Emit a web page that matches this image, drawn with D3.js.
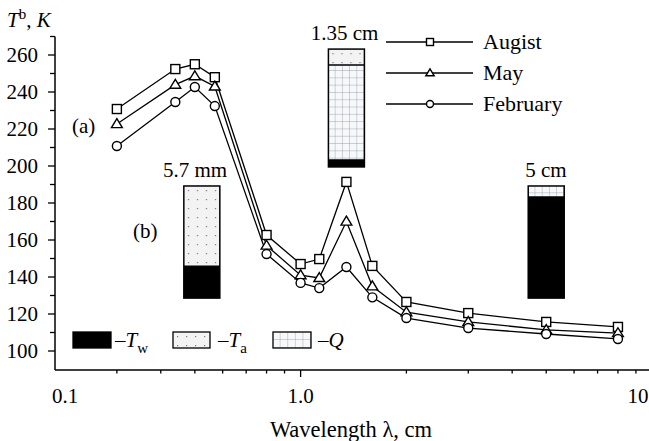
<!DOCTYPE html>
<html><head><meta charset="utf-8">
<script src="https://cdn.jsdelivr.net/npm/d3@7"></script>
<style>
body{margin:0;background:#fff}
svg{display:block}
text{font-family:"Liberation Serif","Times New Roman",serif;font-size:21px;fill:#000}
</style>
</head><body>
<svg id="c" width="649" height="441"></svg>
<script>
// ---- data ----
const wavelengths = [0.30, 0.44, 0.50, 0.57, 0.80, 1.0, 1.13, 1.35, 1.6, 2.0, 3.0, 5.0, 8.0];
const august   = [230.8, 252.4, 255.0, 248.0, 162.7, 147.0, 149.7, 191.4, 146.0, 126.5, 120.5, 115.7, 113.0];
const may      = [222.7, 244.0, 248.6, 243.0, 157.0, 141.0, 139.5, 170.0, 135.0, 121.0, 115.7, 111.4, 109.7];
const february = [210.8, 234.6, 242.7, 232.4, 152.4, 136.8, 134.0, 145.4, 129.0, 117.8, 112.4, 109.2, 106.5];
const seriesNames = ["Augist", "May", "February"];
const seriesMarkers = ["square", "triangle", "circle"];
const yTicks = [100, 120, 140, 160, 180, 200, 220, 240, 260];
const xTickLabels = ["0.1", "1.0", "10"];
const xTickValues = [0.2, 1, 10];
const barLabels = ["5.7 mm", "1.35 cm", "5 cm"];
const barWavelengths = [0.57, 1.35, 5.0];
const barTw = [0.286, 0.06, 0.902];
const barQ  = [0.0, 0.805, 0.098];
const barTa = [0.714, 0.135, 0.0];

// ---- layout ----
const svg = d3.select("#c");
const x = d3.scaleLog().domain([0.2, 10]).range([55, 652]);
const y = d3.scaleLinear().domain([90, 270]).range([369.5, 36.5]);
const xAxisY = 370, yAxisX = 55;

// patterns
const defs = svg.append("defs");
function dotPattern(id, ox, oy) {
  const p = defs.append("pattern").attr("id", id).attr("patternUnits", "userSpaceOnUse")
    .attr("x", ox).attr("y", oy).attr("width", 9).attr("height", 9);
  p.append("rect").attr("width", 9).attr("height", 9).attr("fill", "#f3f3f3");
  p.append("rect").attr("x", 4).attr("y", 4).attr("width", 1.2).attr("height", 1.2).attr("fill", "#777");
}
function gridPattern(id, ox, oy, w, h) {
  const p = defs.append("pattern").attr("id", id).attr("patternUnits", "userSpaceOnUse")
    .attr("x", ox).attr("y", oy).attr("width", w).attr("height", h);
  p.append("rect").attr("width", w).attr("height", h).attr("fill", "#f7f8fa");
  p.append("path").attr("d", `M${w},0V${h}M0,${h}H${w}`).attr("stroke", "#8a94a0").attr("stroke-width", 0.8).attr("fill", "none");
}

// ---- axes ----
const ax = svg.append("g").attr("stroke", "#000").attr("fill", "none");
ax.append("line").attr("x1", yAxisX).attr("x2", yAxisX).attr("y1", y(270)).attr("y2", xAxisY).attr("stroke-width", 1.5);
ax.append("line").attr("x1", yAxisX).attr("x2", 649).attr("y1", xAxisY).attr("y2", xAxisY).attr("stroke-width", 1.5);
d3.range(90, 271, 10).forEach(v => {
  if (v === 90) return;
  const major = v % 20 === 0;
  ax.append("line").attr("x1", yAxisX - (major ? 7 : 5)).attr("x2", yAxisX)
    .attr("y1", y(v)).attr("y2", y(v)).attr("stroke-width", 1.3);
});
const xMinor = [0.3,0.4,0.5,0.6,0.7,0.8,0.9,2,3,4,5,6,7,8,9];
xMinor.forEach(v => {
  ax.append("line").attr("x1", x(v)).attr("x2", x(v)).attr("y1", xAxisY).attr("y2", xAxisY + 3.5).attr("stroke-width", 1.3);
});
ax.append("line").attr("x1", x(1)).attr("x2", x(1)).attr("y1", xAxisY).attr("y2", xAxisY + 7).attr("stroke-width", 1.3);

yTicks.forEach(v => {
  svg.append("text").attr("x", 38).attr("y", y(v)).attr("dy", "0.35em").attr("text-anchor", "end").text(v);
});
const xLabelX = [65, 300, 638];
xTickLabels.forEach((t, i) => {
  svg.append("text").attr("x", i === 1 ? x(xTickValues[i]) : xLabelX[i]).attr("y", 403).attr("text-anchor", "middle").text(t);
});
svg.append("text").attr("x", 351).attr("y", 437).attr("text-anchor", "middle").style("font-size", "22.5px").text("Wavelength λ, cm");
const yl = svg.append("text").attr("x", 7).attr("y", 27);
yl.append("tspan").attr("font-style", "italic").text("T");
yl.append("tspan").attr("dy", -8).attr("font-size", 15).text("b");
yl.append("tspan").attr("dy", 8).text(", ");
yl.append("tspan").attr("font-style", "italic").text("K");

// ---- annotation bars ----
const barDx = [-13, 0, 0];
const barSpan = [[128.6, 189.2], [199.5, 263.2], [128.6, 189.2]];
const barW = 36;
barWavelengths.forEach((wl, i) => {
  const cx = x(wl) + barDx[i];
  const x0 = cx - barW / 2;
  const yb = y(barSpan[i][0]), yt = y(barSpan[i][1]);
  const H = yb - yt;
  dotPattern("dot" + i, x0, yt);
  gridPattern("grid" + i, x0, yt, barW / 5, 7.3);
  const g = svg.append("g");
  let cur = yb;
  const hTw = barTw[i] * H, hQ = barQ[i] * H, hTa = barTa[i] * H;
  if (hTw > 0) { g.append("rect").attr("x", x0).attr("y", cur - hTw).attr("width", barW).attr("height", hTw).attr("fill", "#000"); cur -= hTw; }
  if (hQ > 0) { g.append("rect").attr("x", x0).attr("y", cur - hQ).attr("width", barW).attr("height", hQ).attr("fill", `url(#grid${i})`); cur -= hQ; }
  if (hTa > 0) { g.append("rect").attr("x", x0).attr("y", cur - hTa).attr("width", barW).attr("height", hTa).attr("fill", `url(#dot${i})`); cur -= hTa; }
  let s = yb;
  [hTw, hQ].forEach(h => { s -= h; if (h > 0 && s > yt + 0.5) g.append("line").attr("x1", x0).attr("x2", x0 + barW).attr("y1", s).attr("y2", s).attr("stroke", "#000").attr("stroke-width", 1.3); });
  g.append("rect").attr("x", x0).attr("y", yt).attr("width", barW).attr("height", H).attr("fill", "none").attr("stroke", "#000").attr("stroke-width", 1.5);
  const labX = [195, 344.5, 546][i];
  svg.append("text").attr("x", labX).attr("y", yt - 9).attr("text-anchor", "middle").text(barLabels[i]);
});
svg.append("text").attr("x", 72).attr("y", 133).text("(a)");
svg.append("text").attr("x", 133).attr("y", 238).text("(b)");

// ---- series ----
function drawMarker(g, type, cx, cy, s) {
  if (type === "square") g.append("rect").attr("x", cx - s / 2).attr("y", cy - s / 2).attr("width", s).attr("height", s);
  else if (type === "circle") g.append("circle").attr("cx", cx).attr("cy", cy).attr("r", s / 2);
  else { const h = s * 0.95; g.append("path").attr("d", `M${cx},${cy - h * 0.62}L${cx + s * 0.6},${cy + h * 0.42}L${cx - s * 0.6},${cy + h * 0.42}Z`); }
}
const allSeries = [august, may, february];
const line = d3.line().x(d => x(d[0])).y(d => y(d[1]));
allSeries.forEach((vals) => {
  const pts = wavelengths.map((w, j) => [w, vals[j]]);
  svg.append("path").attr("d", line(pts)).attr("fill", "none").attr("stroke", "#000").attr("stroke-width", 1.3);
});
allSeries.forEach((vals, si) => {
  const g = svg.append("g").attr("fill", "#fff").attr("stroke", "#000").attr("stroke-width", 1.4);
  wavelengths.forEach((w, j) => drawMarker(g, seriesMarkers[si], x(w), y(vals[j]), 9));
});

// ---- top legend ----
const legRows = [42, 73, 104];
seriesNames.forEach((name, i) => {
  const g = svg.append("g").attr("stroke", "#000").attr("fill", "#fff").attr("stroke-width", 1.4);
  g.append("line").attr("x1", 386).attr("x2", 473).attr("y1", legRows[i]).attr("y2", legRows[i]);
  drawMarker(g, seriesMarkers[i], 430, legRows[i], 7);
  svg.append("text").attr("x", 483).attr("y", legRows[i] + 7).style("font-size", "22px").text(name);
});

// ---- bottom legend ----
const lb = svg.append("g");
dotPattern("dotL", 173, 332);
gridPattern("gridL", 273, 332, 7.6, 8);
lb.append("rect").attr("x", 73).attr("y", 332).attr("width", 38).attr("height", 16).attr("fill", "#000").attr("stroke", "#000").attr("stroke-width", 1.3);
lb.append("rect").attr("x", 173).attr("y", 332).attr("width", 37).attr("height", 16).attr("fill", "url(#dotL)").attr("stroke", "#000").attr("stroke-width", 1.3);
lb.append("rect").attr("x", 273).attr("y", 332).attr("width", 38).attr("height", 16).attr("fill", "url(#gridL)").attr("stroke", "#000").attr("stroke-width", 1.3);
const t1 = svg.append("text").attr("x", 115).attr("y", 347);
t1.append("tspan").text("–");
t1.append("tspan").attr("font-style", "italic").text("T");
t1.append("tspan").attr("dy", 6).attr("font-size", 15).text("w");
const t2 = svg.append("text").attr("x", 218).attr("y", 347);
t2.append("tspan").text("–");
t2.append("tspan").attr("font-style", "italic").text("T");
t2.append("tspan").attr("dy", 6).attr("font-size", 15).text("a");
const t3 = svg.append("text").attr("x", 318).attr("y", 347);
t3.append("tspan").text("–");
t3.append("tspan").attr("font-style", "italic").text("Q");
</script>
</body></html>
